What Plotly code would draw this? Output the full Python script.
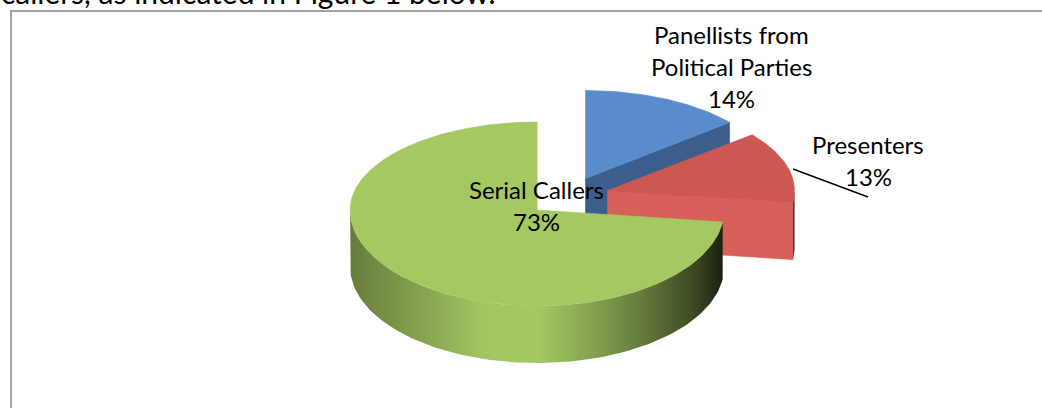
import numpy as np
import plotly.graph_objects as go

# ---------------- data ----------------
labels = ["Panellists from Political Parties", "Presenters", "Serial Callers"]
label_lines = [["Panellists from", "Political Parties"], ["Presenters"], ["Serial Callers"]]
values = [14, 13, 73]
header_text = "callers, as indicated in Figure 1 below."

# ---------------- style ----------------
W, H = 1042, 408
TOP_COLORS = [(90, 139, 203), (205, 87, 83), (166, 200, 98)]
FACE_COLORS = [(59, 94, 140), (216, 96, 91), (126, 156, 71)]
CX, CY = 568, 196          # pie centre (px)
RX = 187                   # horizontal radius
RY_BACK, RY_FRONT = 88, 96 # vertical radii (perspective)
DEPTH = 57                 # thickness
EXPLODE = 0.22             # explosion fraction of radius
FONT = "Lato"
FS = 24
# label anchor points (centre of first line) and line spacing
LABEL_POS = [(731, 34), (868, 144), (536, 189)]
LINE_STEP = 32
LEADER_SLICE = 1
LEADER_END = (868, 197)

total = float(sum(values))


def rgb(c, f=1.0):
    return "rgb(%d,%d,%d)" % tuple(max(0, min(255, int(round(v * f)))) for v in c)


SIDE_SHADE = [(0.0, 0.62), (0.12, 0.74), (0.36, 0.99), (0.5, 1.0),
              (0.64, 0.82), (0.8, 0.58), (0.92, 0.36), (1.0, 0.15)]

fig = go.Figure()


def ry_of(sin_t):
    return RY_BACK if sin_t > 0 else RY_FRONT


slices = []
cum = 0.0
for i, v in enumerate(values):
    a0 = 90.0 - 360.0 * cum / total
    a1 = a0 - 360.0 * v / total
    cum += v
    mid = np.radians((a0 + a1) / 2.0)
    vx = CX + EXPLODE * RX * np.cos(mid)
    vy = CY - EXPLODE * ry_of(np.sin(mid)) * np.sin(mid)
    slices.append(dict(i=i, a0=a0, a1=a1, mid=mid, vx=vx, vy=vy))


def rim(s, tdeg, dz=0.0):
    t = np.radians(tdeg)
    st = np.sin(t)
    return s["vx"] + RX * np.cos(t), s["vy"] - ry_of(st) * st + dz


def poly(xs, ys, color, **kw):
    fig.add_trace(go.Scatter(x=list(xs), y=list(ys), mode="lines", fill="toself",
                             fillcolor=color, line=dict(color=color, width=0.6),
                             hoverinfo="skip", showlegend=False, **kw))


# draw back slices first
for s in sorted(slices, key=lambda d: -np.sin(d["mid"])):
    i = s["i"]
    # outer curved side (front half only)
    for k in range(-2, 3):
        lo = max(s["a1"], -180 + 360 * k)
        hi = min(s["a0"], 360 * k)
        if hi - lo > 0.01:
            ts = np.linspace(hi, lo, 120)
            top = [rim(s, t) for t in ts]
            bot = [rim(s, t, DEPTH) for t in ts[::-1]]
            pts = top + bot
            cs = [[p, rgb(TOP_COLORS[i], f)] for p, f in SIDE_SHADE]
            fig.add_trace(go.Scatter(
                x=[p[0] for p in pts] + [pts[0][0]], y=[p[1] for p in pts] + [pts[0][1]],
                mode="lines", fill="toself", line=dict(width=0),
                fillgradient=dict(type="horizontal", colorscale=cs,
                                  start=s["vx"] - RX, stop=s["vx"] + RX),
                hoverinfo="skip", showlegend=False))
    # radial cut faces facing the viewer
    for edge, vis in ((s["a1"], np.cos(np.radians(s["a1"])) > 1e-6),
                      (s["a0"], np.cos(np.radians(s["a0"])) < -1e-6)):
        if vis:
            rx0, ry0 = rim(s, edge)
            xs = [s["vx"], rx0, rx0, s["vx"], s["vx"]]
            ys = [s["vy"], ry0, ry0 + DEPTH, s["vy"] + DEPTH, s["vy"]]
            poly(xs, ys, rgb(FACE_COLORS[i]))
    # top face
    ts = np.linspace(s["a0"], s["a1"], 200)
    pts = [rim(s, t) for t in ts]
    xs = [s["vx"]] + [p[0] for p in pts] + [s["vx"]]
    ys = [s["vy"]] + [p[1] for p in pts] + [s["vy"]]
    poly(xs, ys, rgb(TOP_COLORS[i]))

annotations = []
for i, lines in enumerate(label_lines):
    pct = "%d%%" % round(values[i] / total * 100)
    x0, y0 = LABEL_POS[i]
    for j, txt in enumerate(lines + [pct]):
        annotations.append(dict(x=x0, y=y0 + j * LINE_STEP, text=txt, showarrow=False,
                                xref="x", yref="y", xanchor="center", yanchor="middle",
                                font=dict(family=FONT, size=FS, color="#000000")))

# header line of the surrounding document, cut off at the top edge (as in the source image)
annotations.append(dict(x=-1.0 / W, y=1 + 8.0 / H, text=header_text, showarrow=False,
                        xref="paper", yref="paper", xanchor="left", yanchor="middle",
                        font=dict(family=FONT, size=30, color="#000000")))

ls = slices[LEADER_SLICE]
lx, ly = rim(ls, np.degrees(ls["mid"]))
shapes = [
    dict(type="rect", xref="x", yref="y", x0=11, y0=11, x1=1070, y1=440,
         line=dict(color="#a3a3a3", width=2), fillcolor="rgba(0,0,0,0)", layer="below"),
    dict(type="line", xref="x", yref="y", x0=lx + 6, y0=ly + 3, x1=LEADER_END[0], y1=LEADER_END[1],
         line=dict(color="#000000", width=1.5)),
]

fig.update_layout(
    width=W, height=H, autosize=False,
    margin=dict(l=0, r=0, t=0, b=0, pad=0),
    paper_bgcolor="white", plot_bgcolor="white",
    xaxis=dict(range=[0, W], visible=False, fixedrange=True),
    yaxis=dict(range=[H, 0], visible=False, fixedrange=True),
    showlegend=False, annotations=annotations, shapes=shapes,
    hovermode=False,
)

fig.write_html("out.html")
